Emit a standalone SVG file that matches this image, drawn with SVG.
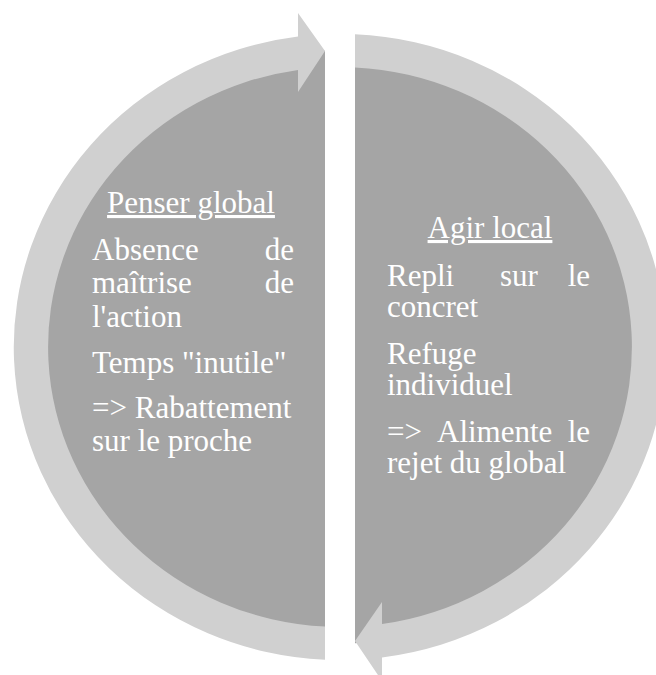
<svg xmlns="http://www.w3.org/2000/svg" width="656" height="675" viewBox="0 0 656 675">
<style>
.disc{fill:#a5a5a5;}
.ring{fill:#d0d0d0;}
text{font-family:"Liberation Serif","Times New Roman",serif;font-size:31px;fill:#ffffff;}
.title{text-anchor:middle;text-decoration:underline;}
.end{text-anchor:end;}
</style>
<rect width="656" height="675" fill="#ffffff"/>
<g id="node-penser-global">
<path class="disc" d="M 325 50.85 A 309 296.5 0 0 0 325 643.15 Z"/>
<text class="title" x="191" y="213">Penser global</text>
<text x="92" y="260">Absence</text><text class="end" x="294" y="260">de</text>
<text x="92" y="293">maîtrise</text><text class="end" x="294" y="293">de</text>
<text x="92" y="327">l'action</text>
<text x="92" y="373">Temps "inutile"</text>
<text x="92" y="418">=&gt; Rabattement</text>
<text x="92" y="451">sur le proche</text>
</g>
<g id="node-agir-local">
<path class="disc" d="M 355 50.85 A 309 296.5 0 0 1 355 643.15 Z"/>
<text class="title" x="490" y="238">Agir local</text>
<text x="387" y="286">Repli</text><text x="500" y="286">sur</text><text class="end" x="590" y="286">le</text>
<text x="387" y="317">concret</text>
<text x="387" y="364">Refuge</text>
<text x="387" y="395">individuel</text>
<text x="387" y="442">=&gt;</text><text x="437" y="442">Alimente</text><text class="end" x="590" y="442">le</text>
<text x="387" y="473">rejet du global</text>
</g>
<g id="connectors">
<path class="ring" d="M 325 659.7 A 326 313 0 0 1 298 36.6 L 298 13 L 325 51 L 298 92 L 298 69.9 A 292 280 0 0 0 325 626.6 Z"/>
<path class="ring" d="M 355 34.3 A 326 313 0 0 1 382 657.4 L 382 681 L 355 641 L 382 602 L 382 624.1 A 292 280 0 0 0 355 67.4 Z"/>
</g>
</svg>
